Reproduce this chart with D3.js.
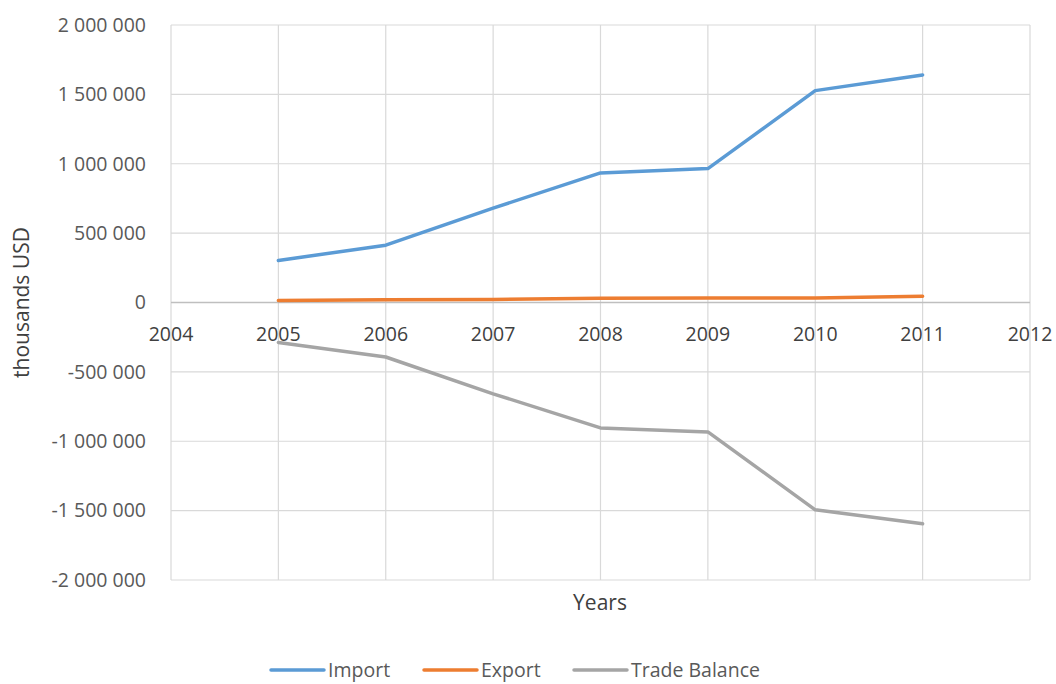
<!DOCTYPE html>
<html><head><meta charset="utf-8">
<script src="https://cdn.jsdelivr.net/npm/d3@7"></script>
<style>
body{margin:0;background:#fff;}
text{font-family:"Open Sans","Noto Sans",sans-serif;fill:#595959;}
</style></head>
<body><svg id="c" width="1056" height="684"></svg>
<script>
const years = [2005, 2006, 2007, 2008, 2009, 2010, 2011];
const importVals = [303000, 413000, 680000, 934000, 965000, 1527000, 1640000];
const exportVals = [15000, 20000, 22000, 30000, 32000, 33000, 45000];
const balanceVals = [-288000, -393000, -658000, -904000, -933000, -1494000, -1595000];
const xTicks = [2004, 2005, 2006, 2007, 2008, 2009, 2010, 2011, 2012];
const yTicks = [-2000000, -1500000, -1000000, -500000, 0, 500000, 1000000, 1500000, 2000000];
const seriesNames = ["Import", "Export", "Trade Balance"];
const seriesColors = ["#5b9bd5", "#ed7d31", "#a5a5a5"];

const svg = d3.select("#c");
const x = d3.scaleLinear().domain([2004, 2012]).range([171, 1030]);
const y = d3.scaleLinear().domain([-2000000, 2000000]).range([580, 25]);
const loc = d3.formatLocale({decimal: ",", thousands: " ", grouping: [3], currency: ["", ""], minus: "-"});
const fmt = loc.format(",d");

// gridlines
svg.append("g").selectAll("line").data(yTicks).join("line")
  .attr("x1", x(2004)).attr("x2", x(2012))
  .attr("y1", d => y(d)).attr("y2", d => y(d))
  .attr("stroke", "#d9d9d9").attr("stroke-width", 1.2);
svg.append("g").selectAll("line").data(xTicks).join("line")
  .attr("x1", d => x(d)).attr("x2", d => x(d))
  .attr("y1", y(2000000)).attr("y2", y(-2000000))
  .attr("stroke", "#d9d9d9").attr("stroke-width", 1.2);
// zero axis on top
svg.append("line").attr("x1", x(2004)).attr("x2", x(2012)).attr("y1", y(0)).attr("y2", y(0))
  .attr("stroke", "#bfbfbf").attr("stroke-width", 1.6);

// y tick labels
svg.append("g").selectAll("text").data(yTicks).join("text")
  .attr("x", 146).attr("y", d => y(d)).attr("dy", "0.35em")
  .attr("text-anchor", "end").attr("font-size", 19.5).text(d => fmt(d));
// x tick labels
svg.append("g").selectAll("text").data(xTicks).join("text")
  .attr("x", d => x(d)).attr("y", y(0) + 38)
  .attr("text-anchor", "middle").attr("font-size", 19.5).style("fill", "#404040").text(d => d);

// axis titles
svg.append("text").attr("transform", "translate(22," + y(0) + ") rotate(-90)")
  .attr("dy", "0.35em").attr("text-anchor", "middle").attr("font-size", 21).style("fill", "#404040")
  .text("thousands USD");
svg.append("text").attr("x", 600).attr("y", 610).attr("text-anchor", "middle")
  .attr("font-size", 21).style("fill", "#404040").text("Years");

// lines
const allVals = [importVals, exportVals, balanceVals];
const line = d3.line().x((d, i) => x(years[i])).y(d => y(d));
svg.append("g").selectAll("path").data(allVals).join("path")
  .attr("d", d => line(d)).attr("fill", "none")
  .attr("stroke", (d, i) => seriesColors[i]).attr("stroke-width", 3.5)
  .attr("stroke-linejoin", "round").attr("stroke-linecap", "round");

// legend
const legX = [271, 424, 574];
const lg = svg.append("g").selectAll("g").data(seriesNames).join("g")
  .attr("transform", (d, i) => "translate(" + legX[i] + ",670)");
lg.append("line").attr("x1", 0).attr("x2", 53).attr("stroke", (d, i) => seriesColors[i])
  .attr("stroke-width", 3.5).attr("stroke-linecap", "round");
lg.append("text").attr("x", 57).attr("dy", "0.35em").attr("font-size", 19.5).text(d => d);
</script></body></html>
